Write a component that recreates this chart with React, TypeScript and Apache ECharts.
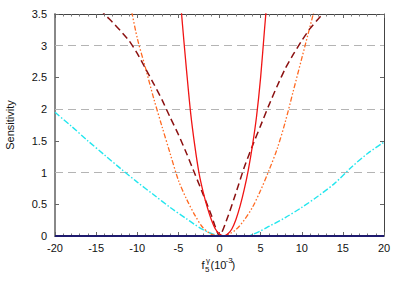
import React, { useEffect, useRef } from "react";
import * as echarts from "echarts";

const xMin = -20;
const xMax = 20;
const xStep = 5;
const yMin = 0;
const yMax = 3.5;
const yStep = 0.5;
const gridValues = [1, 2, 3];

const redX = [-4.8, -4.5, -4, -3.5, -3, -2.5, -2, -1.5, -1, -0.5, 0, 0.5, 1, 1.5, 2, 2.5, 3, 3.5, 4, 4.5, 5, 5.5, 5.7];
const redY = [3.8, 3.33, 2.6, 1.93, 1.42, 1.0, 0.7, 0.46, 0.26, 0.11, 0.03, 0, 0.03, 0.11, 0.26, 0.47, 0.73, 1.04, 1.42, 1.88, 2.5, 3.3, 3.6];

const darkX = [-14.5, -14, -13, -12, -11, -10, -9, -8, -7, -6, -5, -4, -3, -2, -1, 0, 1, 2, 3, 4, 5, 6, 7, 8, 9, 10, 11, 12, 12.4];
const darkY = [3.58, 3.5, 3.37, 3.23, 3.08, 2.88, 2.64, 2.4, 2.15, 1.87, 1.6, 1.3, 0.98, 0.66, 0.33, 0, 0.3, 0.68, 1.08, 1.42, 1.74, 2.06, 2.36, 2.64, 2.87, 3.08, 3.27, 3.42, 3.48];

const orangeX = [-11, -10, -9, -8, -7, -6, -5, -4, -3, -2, -1, 0, 0.5, 1, 2, 3, 4, 5, 6, 7, 8, 9, 10, 11, 12];
const orangeY = [3.75, 3.12, 2.65, 2.17, 1.73, 1.3, 0.88, 0.58, 0.33, 0.13, 0.03, 0, 0, 0.02, 0.1, 0.25, 0.45, 0.72, 1.03, 1.37, 1.8, 2.3, 2.8, 3.3, 3.8];

const cyanX = [-20, -18, -16, -14, -12, -10, -8, -6, -4, -3, -2, -1, 0, 1, 2, 3, 3.7, 5, 6, 8, 10, 12, 14, 16, 18, 20];
const cyanY = [1.95, 1.73, 1.5, 1.28, 1.06, 0.85, 0.65, 0.45, 0.27, 0.18, 0.1, 0.04, 0.01, 0, 0, 0, 0.01, 0.08, 0.15, 0.29, 0.45, 0.63, 0.83, 1.08, 1.3, 1.48];

const navyX = [-20, 20];
const navyY = [0, 0];

const pairs = (xs: number[], ys: number[]) => xs.map((x, i) => [x, ys[i]]);

const FONT = "Liberation Sans, Arial, sans-serif";

export default function App() {
  const ref = useRef<HTMLDivElement>(null);
  useEffect(() => {
    if (!ref.current) return;
    const chart = echarts.init(ref.current, undefined, { renderer: "svg" });
    const axisCommon = {
      type: "value" as const,
      splitLine: { show: false },
    };
    chart.setOption({
      animation: false,
      backgroundColor: "#ffffff",
      grid: { left: 55, right: 21, top: 14, bottom: 48, containLabel: false },
      xAxis: [
        {
          ...axisCommon,
          min: xMin,
          max: xMax,
          interval: xStep,
          position: "bottom",
          axisLine: { show: true, onZero: false, lineStyle: { color: "#444", width: 1 } },
          axisTick: { show: true, inside: true, length: 4, lineStyle: { color: "#666" } },
          minorTick: { show: true, splitNumber: 5, length: 2.5, lineStyle: { color: "#777" } },
          axisLabel: { color: "#111", fontSize: 11, fontFamily: FONT, margin: 6 },
        },
        {
          ...axisCommon,
          min: xMin,
          max: xMax,
          interval: xStep,
          position: "top",
          axisLine: { show: true, onZero: false, lineStyle: { color: "#444", width: 1 } },
          axisTick: { show: true, inside: true, length: 4, lineStyle: { color: "#666" } },
          minorTick: { show: true, splitNumber: 5, length: 2.5, lineStyle: { color: "#777" } },
          axisLabel: { show: false },
        },
      ],
      yAxis: [
        {
          ...axisCommon,
          min: yMin,
          max: yMax,
          interval: yStep,
          position: "left",
          axisLine: { show: true, onZero: false, lineStyle: { color: "#888", width: 2 } },
          axisTick: { show: true, inside: true, length: 4, lineStyle: { color: "#666" } },
          axisLabel: { color: "#111", fontSize: 11, fontFamily: FONT, margin: 8 },
        },
        {
          ...axisCommon,
          min: yMin,
          max: yMax,
          interval: yStep,
          position: "right",
          axisLine: { show: true, onZero: false, lineStyle: { color: "#444", width: 1 } },
          axisTick: { show: true, inside: true, length: 4, lineStyle: { color: "#666" } },
          axisLabel: { show: false },
        },
      ],
      series: [
        {
          type: "line",
          data: [],
          z: 1,
          silent: true,
          markLine: {
            silent: true,
            symbol: "none",
            z: 1,
            label: { show: false },
            lineStyle: { color: "#b4b4b4", type: [8, 5], width: 1.2 },
            data: gridValues.map((v) => ({ yAxis: v })),
          },
        },
        {
          type: "line",
          data: pairs(cyanX, cyanY),
          showSymbol: false,
          smooth: 0.3,
          z: 3,
          lineStyle: { color: "#22e6ee", width: 1.4, type: [6, 2, 1.5, 2] },
        },
        {
          type: "line",
          data: pairs(orangeX, orangeY),
          showSymbol: false,
          smooth: 0.3,
          z: 3,
          lineStyle: { color: "#ff6a22", width: 1.3, type: [5, 2, 1.5, 2, 1.5, 2] },
        },
        {
          type: "line",
          data: pairs(darkX, darkY),
          showSymbol: false,
          smooth: 0.2,
          z: 3,
          lineStyle: { color: "#8b1010", width: 1.5, type: [7, 4] },
        },
        {
          type: "line",
          data: pairs(redX, redY),
          showSymbol: false,
          smooth: 0.3,
          z: 4,
          lineStyle: { color: "#f01414", width: 1.3 },
        },
        {
          type: "line",
          data: pairs(navyX, navyY),
          showSymbol: false,
          z: 5,
          lineStyle: { color: "#1e1a6e", width: 2 },
        },
      ],
      graphic: [
        {
          type: "text",
          x: 10,
          y: 125,
          rotation: Math.PI / 2,
          style: { text: "Sensitivity", fontSize: 11, fontFamily: FONT, fill: "#111", align: "center", verticalAlign: "middle" },
        },
        { type: "text", x: 201.5, y: 265, style: { text: "f", fontSize: 11, fontFamily: FONT, fill: "#111", align: "left", verticalAlign: "middle" } },
        { type: "text", x: 205, y: 269.5, style: { text: "5", fontSize: 8, fontFamily: FONT, fill: "#111", align: "left", verticalAlign: "middle" } },
        { type: "text", x: 206, y: 260.5, style: { text: "γ", fontSize: 8, fontFamily: FONT, fill: "#111", align: "left", verticalAlign: "middle" } },
        { type: "text", x: 210.5, y: 265, style: { text: "(10", fontSize: 11, fontFamily: FONT, fill: "#111", align: "left", verticalAlign: "middle" } },
        { type: "text", x: 225.5, y: 260.5, style: { text: "-3", fontSize: 8, fontFamily: FONT, fill: "#111", align: "left", verticalAlign: "middle" } },
        { type: "text", x: 231.5, y: 265, style: { text: ")", fontSize: 11, fontFamily: FONT, fill: "#111", align: "left", verticalAlign: "middle" } },
      ],
    });
    return () => chart.dispose();
  }, []);
  return <div ref={ref} style={{ width: 405, height: 284, position: "absolute", left: 0, top: 0 }} />;
}
